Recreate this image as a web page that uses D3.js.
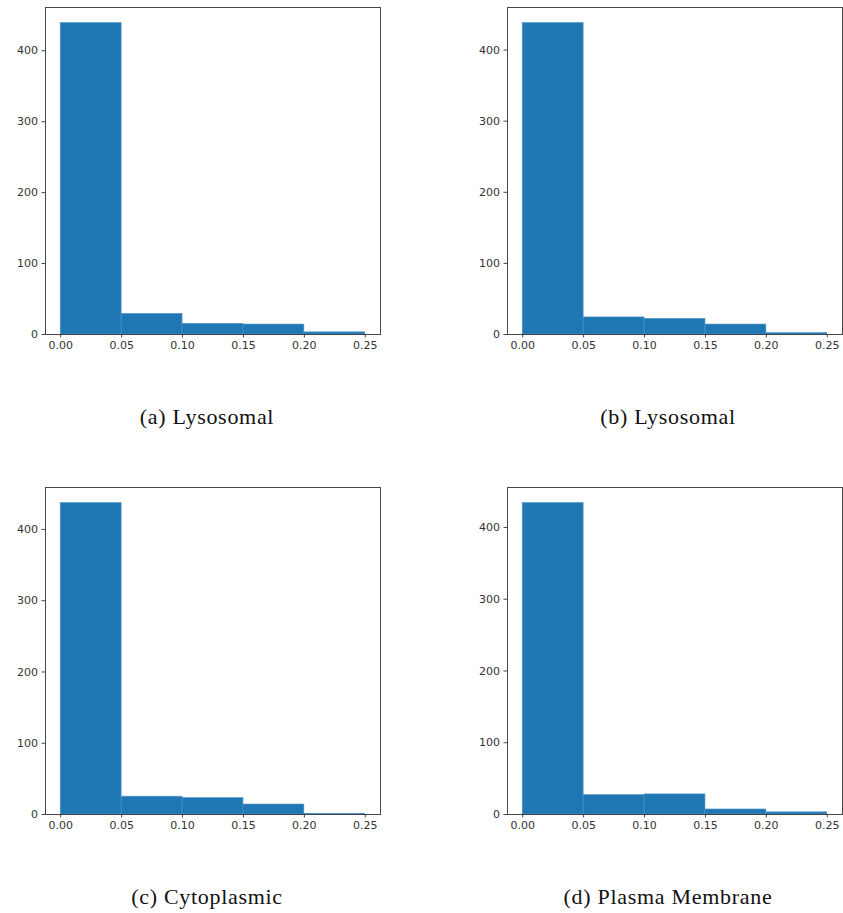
<!DOCTYPE html>
<html>
<head>
<meta charset="utf-8">
<script src="https://cdn.jsdelivr.net/npm/d3@7"></script>
<style>
  html, body { margin: 0; padding: 0; background: #fff; }
  svg { display: block; }
</style>
</head>
<body>
<svg id="fig" width="843" height="913"></svg>
<script>
// Histogram bin edges shared by all four panels
const binEdges = [0, 0.05, 0.10, 0.15, 0.20, 0.25];
const xTickValues = [0, 0.05, 0.10, 0.15, 0.20, 0.25];
const yTickValues = [0, 100, 200, 300, 400];

// Counts per bin for each panel
const countsLysosomalA = [439, 29, 15, 14, 3];
const countsLysosomalB = [438, 24, 22, 14, 2];
const countsCytoplasmic = [437, 25, 23, 14, 1];
const countsPlasmaMembrane = [434, 27, 28, 7, 3];

const captions = ["(a) Lysosomal", "(b) Lysosomal", "(c) Cytoplasmic", "(d) Plasma Membrane"];
const panelCounts = [countsLysosomalA, countsLysosomalB, countsCytoplasmic, countsPlasmaMembrane];

// Frame geometry of each panel (plot area in page pixels)
const frames = [
  { left: 45,  top: 7,   width: 335, height: 327, capX: 207, capY: 424 },
  { left: 507, top: 7,   width: 335, height: 327, capX: 668, capY: 424 },
  { left: 45,  top: 487, width: 335, height: 327, capX: 207, capY: 904 },
  { left: 507, top: 487, width: 335, height: 327, capX: 668, capY: 904 }
];

const barColor = "#1f77b4";
const axisColor = "#333";
const svg = d3.select("#fig");

frames.forEach((f, i) => {
  const counts = panelCounts[i];
  const bins = counts.map((c, k) => ({ x0: binEdges[k], x1: binEdges[k + 1], count: c }));

  const lo = binEdges[0], hi = binEdges[binEdges.length - 1];
  const pad = (hi - lo) * 0.05;
  const x = d3.scaleLinear().domain([lo - pad, hi + pad]).range([0, f.width]);
  const y = d3.scaleLinear().domain([0, d3.max(counts) * 1.05]).range([f.height, 0]);

  const g = svg.append("g").attr("transform", `translate(${f.left},${f.top})`);

  g.selectAll("rect.bar")
    .data(bins)
    .join("rect")
    .attr("class", "bar")
    .attr("x", d => x(d.x0))
    .attr("width", d => x(d.x1) - x(d.x0))
    .attr("y", d => y(d.count))
    .attr("height", d => f.height - y(d.count))
    .attr("fill", barColor)
    .attr("stroke", "#4d94cc")
    .attr("stroke-width", 0.6);

  // Axes
  const xAxis = d3.axisBottom(x).tickValues(xTickValues).tickFormat(d3.format(".2f"))
    .tickSize(3.5).tickPadding(3.5).tickSizeOuter(0);
  const yAxis = d3.axisLeft(y).tickValues(yTickValues).tickFormat(d3.format("d"))
    .tickSize(3.5).tickPadding(3.5).tickSizeOuter(0);

  const gx = g.append("g").attr("transform", `translate(0,${f.height})`).call(xAxis);
  const gy = g.append("g").call(yAxis);

  [gx, gy].forEach(ax => {
    ax.select(".domain").remove();
    ax.selectAll(".tick line").attr("stroke", axisColor).attr("stroke-width", 0.9);
    ax.selectAll(".tick text")
      .attr("fill", axisColor)
      .style("font-family", "'DejaVu Sans', sans-serif")
      .style("font-size", "11px");
  });

  // Frame around plot area
  g.append("rect")
    .attr("x", 0).attr("y", 0)
    .attr("width", f.width).attr("height", f.height)
    .attr("fill", "none")
    .attr("stroke", axisColor)
    .attr("stroke-width", 0.9)
    .attr("shape-rendering", "crispEdges");

  // Caption below panel
  svg.append("text")
    .attr("x", f.capX)
    .attr("y", f.capY)
    .attr("text-anchor", "middle")
    .style("font-family", "'Liberation Serif', 'Times New Roman', serif")
    .style("font-size", "22px")
    .style("letter-spacing", "0.7px")
    .attr("fill", "#111")
    .text(captions[i]);
});
</script>
</body>
</html>
